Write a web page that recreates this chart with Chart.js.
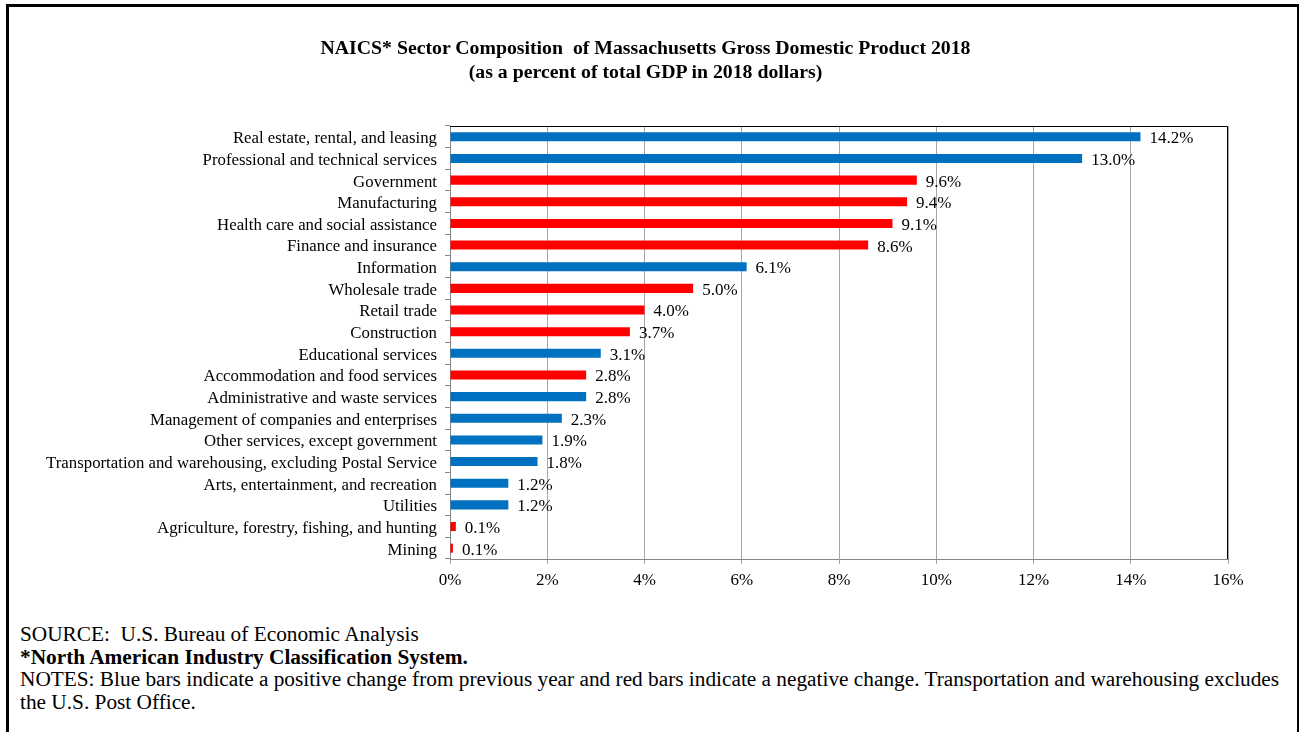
<!DOCTYPE html>
<html>
<head>
<meta charset="utf-8">
<script src="https://cdn.jsdelivr.net/npm/chart.js@4.4.0/dist/chart.umd.min.js"></script>
<style>
  body { margin: 0; background: #fff; font-family: "Liberation Serif", "Times New Roman", serif; }
  #frame { position: absolute; left: 6px; top: 4px; width: 1293px; height: 740px; border: 3px solid #000; border-right-width: 2px; box-sizing: border-box; }
  #title { position: absolute; left: 0; width: 1291px; top: 35px; text-align: center; font-weight: bold; font-size: 19.8px; line-height: 24px; color: #000; }
  #chartBox { position: absolute; left: 0; top: 0; width: 1301px; height: 600px; }
  #notes { position: absolute; left: 20px; top: 623px; font-size: 21.3px; line-height: 22.5px; color: #000; white-space: nowrap; }
</style>
</head>
<body>
<div id="frame"></div>
<div id="chartBox"><canvas id="barChart"></canvas></div>
<div id="title">NAICS* Sector Composition&nbsp; of Massachusetts Gross Domestic Product 2018<br>(as a percent of total GDP in 2018 dollars)</div>
<div id="notes">SOURCE:&nbsp; U.S. Bureau of Economic Analysis<br><b>*North American Industry Classification System.</b><br>NOTES: Blue bars indicate a positive change from previous year and red bars indicate a negative change. Transportation and warehousing excludes<br>the U.S. Post Office.</div>
<script>
var sectors = [
  "Real estate, rental, and leasing",
  "Professional and technical services",
  "Government",
  "Manufacturing",
  "Health care and social assistance",
  "Finance and insurance",
  "Information",
  "Wholesale trade",
  "Retail trade",
  "Construction",
  "Educational services",
  "Accommodation and food services",
  "Administrative and waste services",
  "Management of companies and enterprises",
  "Other services, except government",
  "Transportation and warehousing, excluding Postal Service",
  "Arts, entertainment, and recreation",
  "Utilities",
  "Agriculture, forestry, fishing, and hunting",
  "Mining",
];
var shares = [14.2, 13.0, 9.6, 9.4, 9.1, 8.6, 6.1, 5.0, 4.0, 3.7, 3.1, 2.8, 2.8, 2.3, 1.9, 1.8, 1.2, 1.2, 0.12, 0.06];
// true = positive change from previous year (blue), false = negative (red)
var positive = [true, true, false, false, false, false, true, false, false, false, true, false, true, true, true, true, true, true, false, false];
var xTicks = [0, 2, 4, 6, 8, 10, 12, 14, 16];

var blue = "#0070C0";
var red = "#FF0000";

var valueLabels = {
  id: "valueLabels",
  afterDatasetsDraw: function (chart) {
    var c = chart.ctx;
    var meta = chart.getDatasetMeta(0);
    c.save();
    c.font = "17px 'Liberation Serif'";
    c.fillStyle = "#000";
    c.textBaseline = "middle";
    c.textAlign = "left";
    meta.data.forEach(function (bar, i) {
      c.fillText(shares[i].toFixed(1) + "%", bar.x + 9, bar.y + 2);
    });
    c.restore();
  },
};

var plotFrame = {
  id: "plotFrame",
  afterDraw: function (chart) {
    var a = chart.chartArea;
    var c = chart.ctx;
    c.save();
    c.strokeStyle = "#000";
    c.lineWidth = 1;
    c.beginPath();
    c.moveTo(a.left, a.top + 0.5);
    c.lineTo(a.right - 0.5, a.top + 0.5);
    c.lineTo(a.right - 0.5, a.bottom);
    c.stroke();
    c.restore();
  },
};

var ctx = document.getElementById("barChart").getContext("2d");
var barChart = new Chart(ctx, {
  type: "bar",
  data: {
    labels: sectors,
    datasets: [
      {
        data: shares,
        backgroundColor: positive.map(function (p) { return p ? blue : red; }),
        barPercentage: 0.42,
        categoryPercentage: 1,
      },
    ],
  },
  options: {
    indexAxis: "y",
    responsive: true,
    maintainAspectRatio: false,
    animation: false,
    layout: {
      padding: { top: 126, right: 73, bottom: 1, left: 0 },
    },
    plugins: {
      legend: { display: false },
      tooltip: { enabled: false },
    },
    scales: {
      x: {
        min: 0,
        max: 16,
        afterBuildTicks: function (scale) {
          scale.ticks = xTicks.map(function (v) { return { value: v }; });
        },
        afterFit: function (scale) { scale.height = 40; },
        grid: { color: "#A6A6A6", tickLength: 5, lineWidth: 1 },
        border: { color: "#868686" },
        ticks: {
          color: "#000",
          padding: 6,
          font: { family: "Liberation Serif", size: 17 },
          callback: function (v) { return v + "%"; },
        },
      },
      y: {
        afterFit: function (scale) { scale.width = 450; },
        grid: { drawOnChartArea: false, color: "#868686", tickLength: 5, offset: true },
        border: { color: "#868686" },
        ticks: {
          color: "#000",
          padding: 8,
          labelOffset: 2,
          autoSkip: false,
          font: { family: "Liberation Serif", size: 16.8 },
        },
      },
    },
  },
  plugins: [valueLabels, plotFrame],
});
</script>
</body>
</html>
